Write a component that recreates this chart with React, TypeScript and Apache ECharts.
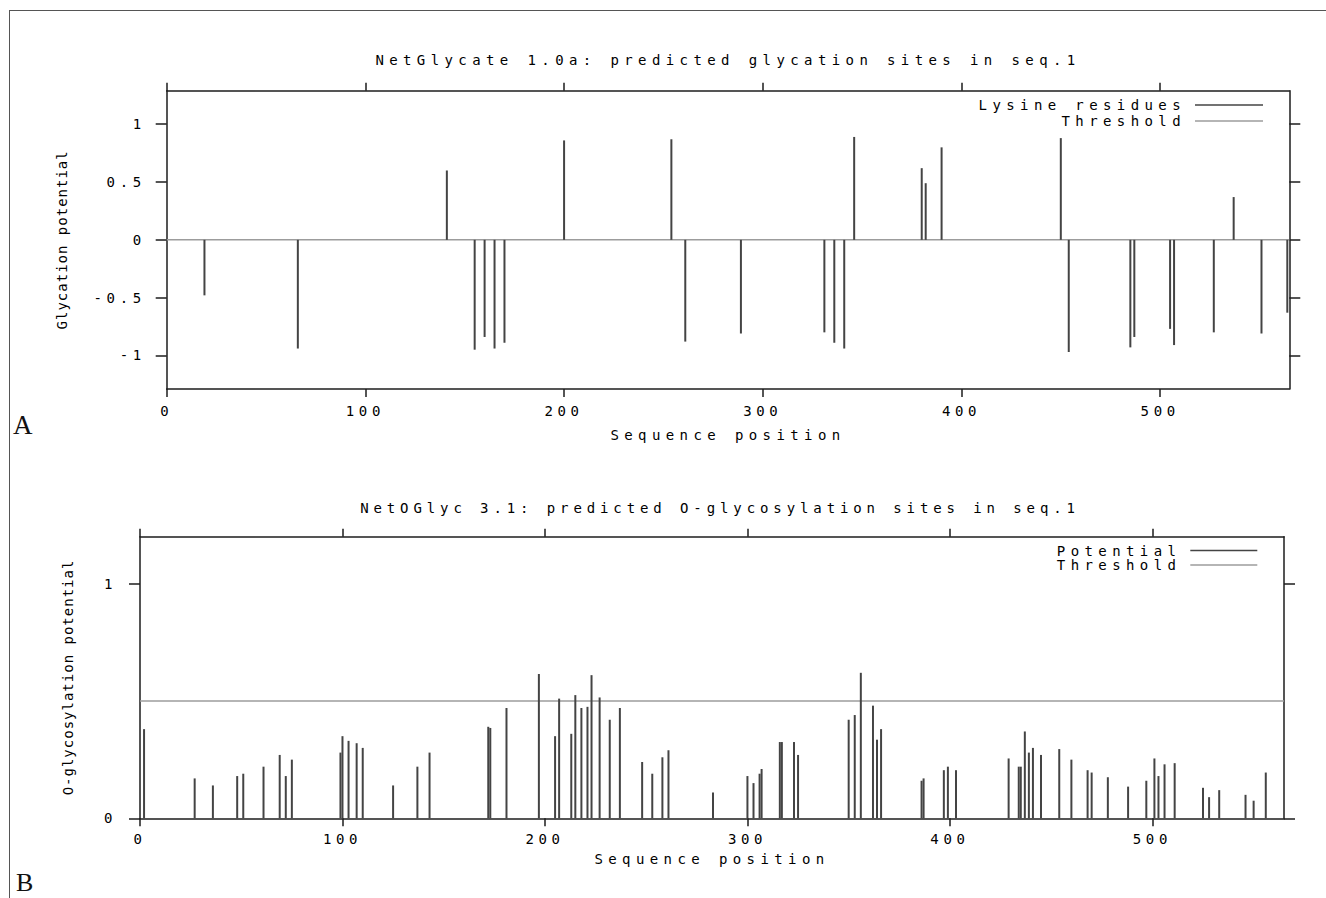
import React, { useEffect, useRef } from "react";
import * as echarts from "echarts";

// ---------- data ----------
const seqLength = 565;
const xTickValues = [0, 100, 200, 300, 400, 500];

// A: NetGlycate lysine residues
const glycPos = [19, 66, 141, 155, 160, 165, 170, 200, 254, 261, 289, 331, 336, 341, 346, 380, 382, 390, 450, 454, 485, 487, 505, 507, 527, 537, 551, 564];
const glycVal = [-0.48, -0.94, 0.6, -0.95, -0.84, -0.94, -0.89, 0.86, 0.87, -0.88, -0.81, -0.8, -0.89, -0.94, 0.89, 0.62, 0.49, 0.8, 0.88, -0.97, -0.93, -0.84, -0.77, -0.91, -0.8, 0.37, -0.81, -0.63];
const glycThreshold = 0;
const glycYTicks = [-1, -0.5, 0, 0.5, 1];

// B: NetOGlyc potentials
const oglycPos = [2, 27, 36, 48, 51, 61, 69, 72, 75, 99, 100, 103, 107, 110, 125, 137, 143, 172, 173, 181, 197, 205, 207, 213, 215, 218, 221, 223, 227, 232, 237, 248, 253, 258, 261, 283, 300, 303, 306, 307, 316, 317, 323, 325, 350, 353, 356, 362, 364, 366, 386, 387, 397, 399, 403, 429, 434, 435, 437, 439, 441, 445, 454, 460, 468, 470, 478, 488, 497, 501, 503, 506, 511, 525, 528, 533, 546, 550, 556];
const oglycVal = [0.38, 0.17, 0.14, 0.18, 0.19, 0.22, 0.27, 0.18, 0.25, 0.28, 0.35, 0.33, 0.32, 0.3, 0.14, 0.22, 0.28, 0.39, 0.385, 0.47, 0.615, 0.35, 0.51, 0.36, 0.525, 0.47, 0.475, 0.61, 0.515, 0.42, 0.47, 0.24, 0.19, 0.26, 0.29, 0.11, 0.18, 0.15, 0.19, 0.21, 0.325, 0.325, 0.325, 0.27, 0.42, 0.44, 0.62, 0.48, 0.335, 0.38, 0.16, 0.17, 0.205, 0.22, 0.205, 0.255, 0.22, 0.22, 0.37, 0.28, 0.3, 0.27, 0.295, 0.25, 0.205, 0.195, 0.175, 0.135, 0.16, 0.255, 0.18, 0.23, 0.235, 0.13, 0.09, 0.12, 0.1, 0.075, 0.195];
const oglycThreshold = 0.5;
const oglycYTicks = [0, 1];

const titleA = "NetGlycate 1.0a: predicted glycation sites in seq.1";
const titleB = "NetOGlyc 3.1: predicted O-glycosylation sites in seq.1";

// ---------- style ----------
const W = 1326;
const H = 898;
const FONT = "'DejaVu Sans Mono', 'Liberation Mono', monospace";
const FS = 14;
const AXIS = "#1c1c1c";
const IMP = "#444444";
const THR = "#9c9c9c";
const TXT = "#000000";

function impulses(name: string, xs: number[], ys: number[], xi: number, yi: number) {
  return {
    type: "custom",
    name,
    xAxisIndex: xi,
    yAxisIndex: yi,
    data: xs.map((v, i) => [v, ys[i]]),
    encode: { x: 0, y: 1 },
    itemStyle: { color: IMP },
    z: 3,
    renderItem: (params: any, api: any) => {
      const p0 = api.coord([api.value(0), 0]);
      const p1 = api.coord([api.value(0), api.value(1)]);
      return {
        type: "line",
        shape: { x1: p0[0], y1: p0[1], x2: p1[0], y2: p1[1] },
        style: { stroke: IMP, lineWidth: 2 },
      };
    },
  };
}

function threshold(value: number, xi: number, yi: number) {
  return {
    type: "line",
    name: "Threshold",
    xAxisIndex: xi,
    yAxisIndex: yi,
    data: [
      [0, value],
      [seqLength, value],
    ],
    symbol: "none",
    color: THR,
    lineStyle: { color: THR, width: 1.5 },
    z: 2,
  };
}

function xAxis(grid: number, position: string, labels: boolean, nameGap: number, margin: number) {
  return {
    type: "value",
    gridIndex: grid,
    position,
    min: 0,
    max: seqLength,
    axisLine: { show: true, onZero: false, lineStyle: { color: AXIS, width: 1.5 } },
    axisTick: { show: true, inside: false, length: 8, customValues: xTickValues, lineStyle: { color: AXIS, width: 1.5 } },
    axisLabel: { show: labels, customValues: xTickValues, margin, color: TXT, fontFamily: FONT, fontSize: FS },
    splitLine: { show: false },
    name: labels ? "Sequence position" : "",
    nameLocation: "middle",
    nameGap,
    nameTextStyle: { color: TXT, fontFamily: FONT, fontSize: FS },
  };
}

function yAxis(grid: number, position: string, labels: boolean, min: number, max: number, ticks: number[], name: string, nameGap: number, margin: number) {
  return {
    type: "value",
    gridIndex: grid,
    position,
    min,
    max,
    axisLine: { show: true, onZero: false, lineStyle: { color: AXIS, width: 1.5 } },
    axisTick: { show: true, inside: false, length: 11, customValues: ticks, lineStyle: { color: AXIS, width: 1.5 } },
    axisLabel: { show: labels, customValues: ticks, margin, color: TXT, fontFamily: FONT, fontSize: FS },
    splitLine: { show: false },
    name: labels ? name : "",
    nameLocation: "middle",
    nameRotate: 90,
    nameGap,
    nameTextStyle: { color: TXT, fontFamily: FONT, fontSize: FS },
  };
}

export default function App() {
  const ref = useRef<HTMLDivElement>(null);
  useEffect(() => {
    if (!ref.current) return;
    const chart = echarts.init(ref.current, undefined, { renderer: "svg" });
    const option: any = {
      animation: false,
      backgroundColor: "#ffffff",
      grid: [
        { left: 166.7, top: 90.7, width: 1122.6, height: 298.3 },
        { left: 140, top: 536.7, width: 1144, height: 281.6 },
      ],
      xAxis: [
        xAxis(0, "bottom", true, 38.5, 15),
        xAxis(0, "top", false, 0, 8),
        xAxis(1, "bottom", true, 34, 14),
        xAxis(1, "top", false, 0, 8),
      ],
      yAxis: [
        yAxis(0, "left", true, -1.29, 1.29, glycYTicks, "Glycation potential", 98, 21),
        yAxis(0, "right", false, -1.29, 1.29, glycYTicks, "", 0, 8),
        yAxis(1, "left", true, 0, 1.2, oglycYTicks, "O-glycosylation potential", 65, 23),
        yAxis(1, "right", false, 0, 1.2, oglycYTicks, "", 0, 8),
      ],
      legend: [
        {
          data: [
            { name: "Lysine residues", icon: "rect", itemStyle: { color: IMP } },
            { name: "Threshold", icon: "rect", itemStyle: { color: THR } },
          ],
          orient: "vertical",
          align: "right",
          right: W - 1263,
          top: 98,
          padding: 0,
          itemWidth: 68,
          itemHeight: 1.5,
          itemGap: 2,
          selectedMode: false,
          textStyle: { color: TXT, fontFamily: FONT, fontSize: FS, padding: [0, 4, 0, 0] },
        },
        {
          data: [
            { name: "Potential", icon: "rect", itemStyle: { color: IMP } },
            { name: "Threshold", icon: "rect", itemStyle: { color: THR } },
          ],
          orient: "vertical",
          align: "right",
          right: W - 1257.3,
          top: 543.5,
          padding: 0,
          itemWidth: 67,
          itemHeight: 1.5,
          itemGap: 0.5,
          selectedMode: false,
          textStyle: { color: TXT, fontFamily: FONT, fontSize: FS, padding: [0, 4, 0, 0] },
        },
      ],
      series: [
        threshold(glycThreshold, 0, 0),
        impulses("Lysine residues", glycPos, glycVal, 0, 0),
        threshold(oglycThreshold, 2, 2),
        impulses("Potential", oglycPos, oglycVal, 2, 2),
      ],
      graphic: [
        { type: "line", shape: { x1: 9, y1: 10.5, x2: W, y2: 10.5 }, style: { stroke: "#555", lineWidth: 1 } },
        { type: "line", shape: { x1: 9.5, y1: 10, x2: 9.5, y2: H }, style: { stroke: "#555", lineWidth: 1 } },
        { type: "text", x: 728, y: 60, style: { text: titleA, align: "center", verticalAlign: "middle", fill: TXT, font: `${FS}px ${FONT}` } },
        { type: "text", x: 720, y: 508, style: { text: titleB, align: "center", verticalAlign: "middle", fill: TXT, font: `${FS}px ${FONT}` } },
        { type: "text", x: 13, y: 425, style: { text: "A", align: "left", verticalAlign: "middle", fill: "#111", font: `27px 'Liberation Serif', 'DejaVu Serif', serif` } },
        { type: "text", x: 16, y: 882, style: { text: "B", align: "left", verticalAlign: "middle", fill: "#111", font: `26px 'Liberation Serif', 'DejaVu Serif', serif` } },
      ],
    };
    chart.setOption(option);
    // mimic the wide, letter-spaced bitmap font of the original plots
    const svg = ref.current.querySelector("svg");
    if (svg) {
      svg.querySelectorAll("text").forEach((t) => {
        const s = t.textContent || "";
        if (s === "A" || s === "B") return;
        let ls = 5.4;
        if (/^[-\d.]+$/.test(s)) ls = 4.6;
        else if (s.indexOf("potential") >= 0) ls = 1.0;
        else if (s === titleB) ls = 4.9;
        t.setAttribute("letter-spacing", String(ls));
      });
    }
    return () => chart.dispose();
  }, []);
  return <div ref={ref} style={{ position: "absolute", left: 0, top: 0, width: W, height: H, background: "#fff" }} />;
}
